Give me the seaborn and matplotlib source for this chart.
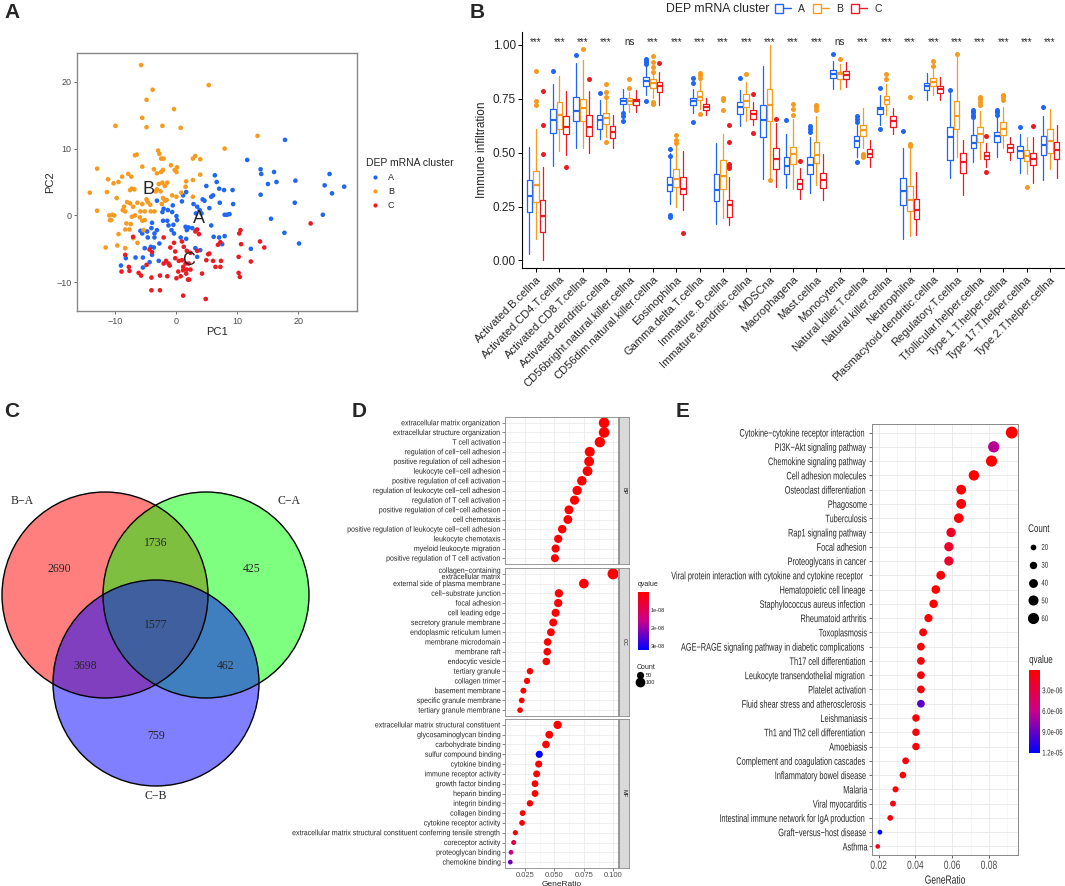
import numpy as np
import pandas as pd
import matplotlib
matplotlib.use('Agg')
import matplotlib.pyplot as plt
import seaborn as sns
from matplotlib.colors import LinearSegmentedColormap, Normalize
from matplotlib.cm import ScalarMappable
from matplotlib.patches import Circle, Patch
from matplotlib.lines import Line2D
from matplotlib.legend_handler import HandlerTuple
from matplotlib.patheffects import AbstractPathEffect
from matplotlib.transforms import Affine2D

# ---------------- data ----------------
# A: PCA points per DEP mRNA cluster
pc_A = [(17.8, 11.3), (11.6, 8.3), (13.8, 6.9), (13.9, 6.2), (16.0, 6.5), (16.4, 5.0), (15.0, 4.7), (25.1, 6.2),
        (24.3, 4.5), (25.5, 3.3), (27.5, 4.3), (19.5, 5.2), (19.4, 1.9), (13.8, 3.1), (24.0, 0.1), (15.5, -0.5),
        (17.7, -2.6), (20.1, -4.2), (12.2, -5.0), (6.3, 6.0), (6.6, 5.0), (7.0, 4.0), (7.8, 3.8), (9.2, 3.8),
        (4.9, 4.4), (6.0, 3.0), (5.7, 2.8), (4.3, 2.4), (4.6, 2.2), (7.1, 1.9), (9.3, 1.7), (5.4, 1.1), (7.9, 0.1),
        (8.3, 0.1), (8.7, 0.2), (5.7, -1.5), (6.1, -3.2), (7.0, -3.3), (7.9, -3.1), (7.5, -4.3), (1.6, 3.5),
        (1.1, 3.0), (0.9, 2.1), (2.8, 1.7), (3.4, 1.3), (3.8, 0.8), (4.1, 0.3), (3.2, 0.3), (-3.2, 2.2),
        (-2.3, 0.5), (-2.1, 1.0), (-1.4, 0.8), (-0.7, 0.5), (-0.6, 1.5), (0.0, -0.1), (0.1, -0.7), (-0.5, -1.4),
        (-1.5, -0.8), (-2.2, -0.8), (-4.0, -1.1), (-4.1, -1.9), (-3.2, -2.2), (-3.6, -2.7), (-4.8, -2.4),
        (-5.9, -2.3), (-5.6, -2.7), (-4.7, -3.3), (-3.6, -3.3), (-1.3, -1.5), (-0.8, -2.2), (-0.4, -2.7),
        (0.7, -3.3), (1.6, -3.5), (1.5, -1.7), (2.0, -1.8), (2.6, -1.9), (3.3, -2.2), (1.7, -2.2), (-4.2, -4.7),
        (-3.7, -4.8), (-2.8, -4.2), (-4.0, -5.9), (-5.2, -4.9), (-6.7, -6.3), (-5.5, -6.3), (-5.5, -7.8),
        (-8.3, -6.4), (-9.1, -7.5), (3.4, -6.2), (3.9, -5.2), (3.1, -4.9), (-4.4, -7.0), (-2.9, -6.8)]
pc_B = [(-5.8, 22.5), (5.3, 19.5), (-3.9, 18.8), (-4.9, 17.3), (-0.4, 15.9), (-5.6, 14.6), (-4.9, 13.2),
        (-10.0, 13.4), (-2.3, 13.4), (0.7, 13.1), (13.3, 11.9), (7.9, 10.0), (-3.0, 9.7), (-2.8, 9.2), (-6.8, 9.0),
        (-6.5, 9.1), (3.1, 8.9), (2.7, 8.5), (3.9, 8.4), (-2.5, 8.5), (-2.1, 8.5), (-13.0, 7.0), (-5.6, 7.3),
        (-0.9, 7.5), (0.1, 7.2), (-3.7, 6.9), (-2.2, 6.8), (-3.2, 6.3), (-2.5, 6.5), (-7.9, 6.2), (-7.4, 5.8),
        (-8.9, 5.8), (0.0, 6.5), (-0.3, 6.8), (3.9, 6.1), (-11.2, 5.4), (-10.3, 4.8), (-9.5, 5.0), (-2.9, 4.7),
        (-2.3, 4.9), (-1.5, 4.9), (-1.9, 4.4), (2.7, 5.3), (1.6, 5.1), (-7.3, 4.0), (-7.6, 3.8), (-6.9, 3.9),
        (-3.2, 3.9), (-3.4, 3.6), (-2.6, 3.6), (-14.2, 3.4), (-11.4, 3.5), (-9.8, 2.6), (1.5, 4.3), (-0.7, 3.0),
        (0.0, 2.8), (0.8, 3.4), (2.7, 2.8), (-8.1, 2.0), (-7.6, 1.8), (-6.4, 1.9), (-7.1, 1.3), (-4.9, 2.4),
        (-4.7, 2.0), (-4.3, 1.6), (-5.6, 1.7), (-2.2, 2.6), (-1.9, 2.2), (-2.4, 1.7), (-1.6, 2.3), (-8.6, 1.3),
        (-8.8, 0.8), (-8.4, 0.6), (-13.0, 0.7), (-10.5, 0.1), (-11.0, 0.0), (-10.2, 0.0), (-10.7, -0.7),
        (-10.9, -0.7), (-5.9, 0.6), (-5.2, 0.6), (-4.2, 0.6), (-3.6, 0.6), (-7.3, -0.2), (-6.8, 0.0), (-6.0, -0.3),
        (-5.2, -0.7), (-8.2, -1.2), (-7.5, -1.3), (-7.7, -2.1), (-8.4, -2.1), (-5.6, -0.8), (-5.4, -2.2),
        (-9.5, -2.8), (-11.6, -4.8), (-9.7, -4.5), (-8.4, -4.9), (-7.1, -3.4), (-6.4, -4.1)]
pc_C = [(22.0, -1.2), (10.5, -2.2), (10.3, -2.7), (10.6, -4.3), (13.7, -3.9), (14.4, -4.8), (12.2, -6.9),
        (10.2, -6.2), (10.2, -8.6), (10.4, -9.2), (7.2, -4.0), (6.8, -4.4), (7.3, -6.8), (7.2, -7.7), (6.4, -7.7),
        (6.0, -6.8), (5.2, -5.8), (4.9, -6.7), (4.2, -8.7), (4.8, -12.5), (1.1, -12.0), (3.4, -2.1), (3.7, -2.8),
        (3.1, -2.4), (-2.1, -3.3), (-1.0, -4.8), (-0.4, -4.1), (-0.2, -5.4), (0.9, -3.9), (1.2, -4.7), (1.7, -5.3),
        (2.3, -5.6), (3.4, -5.3), (-0.2, -6.4), (0.4, -6.8), (0.9, -6.7), (1.5, -7.2), (2.0, -7.2), (-1.7, -6.8),
        (-1.3, -7.2), (-1.1, -7.5), (-2.1, -7.2), (1.1, -7.7), (1.7, -8.1), (2.3, -8.1), (0.3, -8.4), (1.1, -8.2),
        (1.6, -8.7), (0.7, -9.1), (0.0, -9.4), (1.9, -9.6), (2.1, -9.6), (-2.7, -9.0), (-1.5, -9.1), (-4.1, -9.3),
        (-2.7, -11.2), (-4.1, -11.2), (-4.4, -5.1), (-4.0, -5.5), (-4.9, -7.4), (-7.1, -3.2), (-8.4, -5.9),
        (-7.8, -7.7), (-7.7, -8.3), (-9.0, -8.4), (-6.2, -8.6), (-5.8, -9.0), (5.4, -5.7)]
cluster_centers = {'A': (3.7, -0.4), 'B': (-4.6, 3.9), 'C': (2.0, -6.7)}

# B: immune infiltration box statistics (whislo, q1, median, q3, whishi)
cell_types = ['Activated.B.cellna', 'Activated.CD4.T.cellna', 'Activated.CD8.T.cellna',
              'Activated.dendritic.cellna', 'CD56bright.natural.killer.cellna', 'CD56dim.natural.killer.cellna',
              'Eosinophilna', 'Gamma.delta.T.cellna', 'Immature..B.cellna', 'Immature.dendritic.cellna', 'MDSCna',
              'Macrophagena', 'Mast.cellna', 'Monocytena', 'Natural.killer.T.cellna', 'Natural.killer.cellna',
              'Neutrophilna', 'Plasmacytoid.dendritic.cellna', 'Regulatory.T.cellna', 'T.follicular.helper.cellna',
              'Type.1.T.helper.cellna', 'Type.17.T.helper.cellna', 'Type.2.T.helper.cellna']
signif = ['***', '***', '***', '***', 'ns', '***', '***', '***', '***', '***', '***', '***', '***', 'ns',
          '***', '***', '***', '***', '***', '***', '***', '***', '***']
stats_A = [(0.03, 0.225, 0.298, 0.374, 0.527), (0.44, 0.592, 0.653, 0.704, 0.817), (0.524, 0.646, 0.692, 0.760, 0.916),
           (0.562, 0.611, 0.653, 0.673, 0.745), (0.676, 0.727, 0.740, 0.753, 0.795), (0.768, 0.810, 0.832, 0.852, 0.902),
           (0.264, 0.320, 0.348, 0.386, 0.500), (0.684, 0.719, 0.740, 0.753, 0.795), (0.169, 0.276, 0.328, 0.402, 0.547),
           (0.623, 0.680, 0.710, 0.737, 0.790), (0.379, 0.574, 0.650, 0.719, 0.900), (0.336, 0.402, 0.440, 0.481, 0.585),
           (0.315, 0.402, 0.443, 0.478, 0.573), (0.795, 0.847, 0.867, 0.882, 0.924), (0.478, 0.528, 0.554, 0.577, 0.630),
           (0.627, 0.679, 0.702, 0.714, 0.768), (0.100, 0.256, 0.320, 0.382, 0.524), (0.745, 0.791, 0.809, 0.824, 0.870),
           (0.382, 0.466, 0.573, 0.618, 0.776), (0.455, 0.521, 0.547, 0.580, 0.661), (0.478, 0.551, 0.577, 0.595, 0.669),
           (0.405, 0.475, 0.508, 0.531, 0.585), (0.371, 0.490, 0.536, 0.577, 0.669)]
fliers_A = [[], [0.879], [0.954], [0.776], [0.684, 0.669, 0.646], [0.936, 0.928, 0.92, 0.913, 0.74],
            [0.519, 0.486, 0.211, 0.203], [0.847, 0.824, 0.643], [], [0.847], [], [0.65], [0.626, 0.612, 0.595],
            [0.956], [0.669, 0.658, 0.643, 0.456], [0.801, 0.611], [0.60], [], [0.791], [0.70, 0.689, 0.676, 0.664],
            [0.70, 0.689, 0.676], [0.618], [0.713]]
stats_B = [(0.10, 0.27, 0.348, 0.417, 0.608), (0.51, 0.612, 0.673, 0.734, 0.857), (0.524, 0.646, 0.707, 0.748, 0.928),
           (0.573, 0.634, 0.661, 0.684, 0.753), (0.69, 0.728, 0.742, 0.753, 0.783), (0.753, 0.80, 0.824, 0.84, 0.913),
           (0.249, 0.34, 0.379, 0.424, 0.542), (0.704, 0.745, 0.76, 0.786, 0.837), (0.195, 0.333, 0.394, 0.467, 0.588),
           (0.646, 0.711, 0.74, 0.772, 0.829), (0.386, 0.646, 0.722, 0.795, 1.00), (0.333, 0.447, 0.493, 0.528, 0.656),
           (0.348, 0.45, 0.49, 0.551, 0.669), (0.795, 0.841, 0.863, 0.875, 0.913), (0.524, 0.577, 0.603, 0.627, 0.707),
           (0.676, 0.725, 0.745, 0.765, 0.821), (0.115, 0.231, 0.282, 0.345, 0.516), (0.768, 0.809, 0.829, 0.847, 0.89),
           (0.478, 0.611, 0.669, 0.74, 0.944), (0.47, 0.55, 0.585, 0.618, 0.692), (0.524, 0.58, 0.608, 0.643, 0.714),
           (0.402, 0.46, 0.486, 0.511, 0.573), (0.424, 0.50, 0.554, 0.608, 0.704)]
fliers_B = [[0.881, 0.74, 0.719], [], [0.98], [0.821, 0.78, 0.76, 0.551], [0.841, 0.80],
            [0.948, 0.92, 0.896, 0.875, 0.737, 0.725], [0.582, 0.557, 0.547], [0.87, 0.86, 0.847, 0.68],
            [0.753, 0.745, 0.70], [0.867], [0.371], [0.727, 0.702, 0.676], [0.719, 0.71, 0.70], [0.933],
            [0.496, 0.486, 0.478], [0.863, 0.841], [0.757, 0.542, 0.531], [0.925, 0.902], [0.956],
            [0.76, 0.75, 0.737, 0.722], [0.768, 0.757, 0.745], [0.34], []]
stats_C = [(0.0, 0.134, 0.206, 0.279, 0.432), (0.49, 0.585, 0.621, 0.672, 0.786), (0.50, 0.577, 0.621, 0.673, 0.786),
           (0.524, 0.569, 0.595, 0.626, 0.676), (0.69, 0.722, 0.74, 0.748, 0.79), (0.722, 0.78, 0.81, 0.827, 0.875),
           (0.234, 0.31, 0.333, 0.386, 0.508), (0.676, 0.70, 0.714, 0.727, 0.753), (0.165, 0.203, 0.256, 0.282, 0.389),
           (0.627, 0.658, 0.679, 0.698, 0.734), (0.343, 0.424, 0.473, 0.52, 0.638), (0.287, 0.331, 0.353, 0.376, 0.429),
           (0.282, 0.337, 0.371, 0.406, 0.493), (0.806, 0.84, 0.86, 0.878, 0.921), (0.432, 0.478, 0.496, 0.519, 0.557),
           (0.585, 0.62, 0.646, 0.669, 0.707), (0.119, 0.192, 0.234, 0.287, 0.412), (0.745, 0.776, 0.794, 0.81, 0.852),
           (0.302, 0.405, 0.455, 0.50, 0.557), (0.435, 0.47, 0.486, 0.505, 0.547), (0.467, 0.505, 0.524, 0.542, 0.573),
           (0.359, 0.443, 0.473, 0.50, 0.573), (0.383, 0.47, 0.513, 0.551, 0.63)]
fliers_C = [[0.786, 0.63, 0.493], [0.432], [0.84], [], [], [0.916], [0.127], [], [0.63, 0.55, 0.447, 0.437, 0.429],
            [0.771, 0.592], [0.658], [0.46], [], [], [], [], [], [], [], [0.577, 0.409], [], [0.623], []]

# C: Venn counts
venn_sets = ['B\u2212A', 'C\u2212A', 'C\u2212B']
venn_counts = {'BA': 2690, 'CA': 425, 'CB': 759, 'BA&CA': 1736, 'BA&CB': 3698, 'CA&CB': 462, 'all': 1577}

# D: GO enrichment
bp_terms = ['extracellular matrix organization', 'extracellular structure organization', 'T cell activation',
            'regulation of cell\u2212cell adhesion', 'positive regulation of cell adhesion',
            'leukocyte cell\u2212cell adhesion', 'positive regulation of cell activation',
            'regulation of leukocyte cell\u2212cell adhesion', 'regulation of T cell activation',
            'positive regulation of cell\u2212cell adhesion', 'cell chemotaxis',
            'positive regulation of leukocyte cell\u2212cell adhesion', 'leukocyte chemotaxis',
            'myeloid leukocyte migration', 'positive regulation of T cell activation']
bp_ratio = [0.0922, 0.0922, 0.0886, 0.080, 0.0795, 0.0781, 0.0733, 0.0693, 0.0671, 0.0623, 0.0614, 0.0566,
            0.0532, 0.051, 0.0504]
bp_count = [120, 120, 116, 104, 103, 101, 95, 90, 87, 81, 80, 74, 69, 66, 65]
bp_q = [1e-15] * 15
cc_terms = ['collagen\u2212containing\nextracellular matrix', 'external side of plasma membrane',
            'cell\u2212substrate junction', 'focal adhesion', 'cell leading edge', 'secretory granule membrane',
            'endoplasmic reticulum lumen', 'membrane microdomain', 'membrane raft', 'endocytic vesicle',
            'tertiary granule', 'collagen trimer', 'basement membrane', 'specific granule membrane',
            'tertiary granule membrane']
cc_ratio = [0.0998, 0.075, 0.0538, 0.0532, 0.051, 0.049, 0.047, 0.0442, 0.0439, 0.0431, 0.0292, 0.0267,
            0.0236, 0.0222, 0.0208]
cc_count = [130, 98, 70, 69, 66, 64, 61, 57, 57, 56, 38, 35, 31, 29, 27]
cc_q = [1e-15] * 15
mf_terms = ['extracellular matrix structural constituent', 'glycosaminoglycan binding', 'carbohydrate binding',
            'sulfur compound binding', 'cytokine binding', 'immune receptor activity', 'growth factor binding',
            'heparin binding', 'integrin binding', 'collagen binding', 'cytokine receptor activity',
            'extracellular matrix structural constituent conferring tensile strength', 'coreceptor activity',
            'proteoglycan binding', 'chemokine binding']
mf_ratio = [0.0527, 0.0456, 0.0428, 0.0371, 0.0366, 0.0349, 0.0335, 0.0335, 0.0292, 0.023, 0.0225, 0.0168,
            0.0154, 0.0131, 0.0125]
mf_count = [70, 61, 57, 49, 48, 46, 44, 44, 38, 30, 29, 22, 20, 17, 16]
mf_q = [1e-15, 1e-12, 1e-11, 3.2e-08, 1e-11, 1e-10, 1e-10, 1e-10, 1e-10, 1e-10, 3e-10, 5e-10, 0.8e-08,
        1.5e-08, 2.3e-08]

# E: KEGG enrichment
kegg_terms = ['Cytokine\u2212cytokine receptor interaction', 'PI3K\u2212Akt signaling pathway',
              'Chemokine signaling pathway', 'Cell adhesion molecules', 'Osteoclast differentiation', 'Phagosome',
              'Tuberculosis', 'Rap1 signaling pathway', 'Focal adhesion', 'Proteoglycans in cancer',
              'Viral protein interaction with cytokine and cytokine receptor', 'Hematopoietic cell lineage',
              'Staphylococcus aureus infection', 'Rheumatoid arthritis', 'Toxoplasmosis',
              'AGE\u2212RAGE signaling pathway in diabetic complications', 'Th17 cell differentiation',
              'Leukocyte transendothelial migration', 'Platelet activation', 'Fluid shear stress and atherosclerosis',
              'Leishmaniasis', 'Th1 and Th2 cell differentiation', 'Amoebiasis', 'Complement and coagulation cascades',
              'Inflammatory bowel disease', 'Malaria', 'Viral myocarditis',
              'Intestinal immune network for IgA production', 'Graft\u2212versus\u2212host disease', 'Asthma']
kegg_ratio = [0.0924, 0.0826, 0.0814, 0.0718, 0.0649, 0.0649, 0.0636, 0.0594, 0.0582, 0.0582, 0.0538, 0.0511,
              0.0499, 0.0471, 0.0442, 0.043, 0.043, 0.043, 0.043, 0.043, 0.0403, 0.0403, 0.0403, 0.0347, 0.0332,
              0.0292, 0.0278, 0.0263, 0.0207, 0.0195]
kegg_count = [68, 61, 60, 53, 48, 48, 47, 44, 43, 43, 40, 38, 37, 35, 33, 32, 32, 32, 32, 32, 30, 30, 30, 26,
              25, 22, 21, 20, 16, 15]
kegg_q = [1e-12, 6.5e-06, 5e-09, 1e-08, 2e-07, 3e-07, 5e-07, 1.6e-06, 1.8e-06, 2.0e-06, 4e-07, 3e-08, 2e-08,
          2e-08, 4e-07, 1e-07, 3e-07, 4e-07, 6e-07, 9.3e-06, 1e-07, 3e-07, 3e-07, 5e-07, 1e-07, 2e-07, 6e-07,
          5e-07, 1.2e-05, 1e-06]

# ---------------- style ----------------
W, H = 1065, 886
sns.set_theme(style='white')
plt.rcParams['font.family'] = ['Liberation Sans', 'DejaVu Sans']
SERIF = ['Liberation Serif', 'DejaVu Serif']
pal = {'A': '#1F66F2', 'B': '#F79A1E', 'C': '#EA1B22'}
qcmap = LinearSegmentedColormap.from_list('q', ['#FF0000', '#C8008C', '#0000FF'])


class Squeeze(AbstractPathEffect):
    """Draw text horizontally condensed (the reference panel E uses a narrow face)."""

    def __init__(self, sx, anchor='right'):
        super().__init__()
        self.sx = sx
        self.anchor = anchor

    def draw_path(self, renderer, gc, tpath, affine, rgbFace=None):
        ext = tpath.get_extents(affine)
        x0 = {'right': ext.x1, 'left': ext.x0}.get(self.anchor, (ext.x0 + ext.x1) / 2)
        aff = affine + Affine2D().translate(-x0, 0).scale(self.sx, 1).translate(x0, 0)
        renderer.draw_path(gc, tpath, aff, rgbFace)


def squeeze(texts, sx, anchor):
    for t in texts:
        t.set_path_effects([Squeeze(sx, anchor)])


def box(l, t, r, b):
    return [l / W, 1 - b / H, (r - l) / W, (b - t) / H]


fig = plt.figure(figsize=(W / 100, H / 100), dpi=100)

# ---------------- A: PCA ----------------
pca = pd.concat([pd.DataFrame(pts, columns=['PC1', 'PC2']).assign(cluster=k)
                 for k, pts in [('A', pc_A), ('B', pc_B), ('C', pc_C)]])
axA = fig.add_axes(box(77, 53, 357, 311))
sns.scatterplot(data=pca, x='PC1', y='PC2', hue='cluster', palette=pal, s=11, linewidth=0, ax=axA)
for k, (cx, cy) in cluster_centers.items():
    axA.text(cx, cy, k, fontsize=13, ha='center', va='center')
axA.set_xlim(-16.3, 29.6)
axA.set_ylim(-14.3, 24.3)
axA.set_xticks([-10, 0, 10, 20])
axA.set_yticks([-10, 0, 10, 20])
axA.tick_params(labelsize=6.5, labelcolor='#4D4D4D', length=2.5, width=0.6, color='#555555', pad=1.5,
                left=True, bottom=True)
for s in axA.spines.values():
    s.set_color('#888888')
    s.set_linewidth(1.0)
axA.set_xlabel('PC1', fontsize=8, labelpad=1)
axA.set_ylabel('PC2', fontsize=8, labelpad=1)
axA.legend(title='DEP mRNA cluster', loc='upper left', bbox_to_anchor=(358 / W, 1 - 150 / H),
           bbox_transform=fig.transFigure, frameon=False, fontsize=6.5, title_fontsize=7.5,
           markerscale=0.9, handletextpad=0.4, labelspacing=0.55, alignment='left')

# ---------------- B: immune infiltration boxplots ----------------
axB = fig.add_axes(box(522, 32, 1064, 268))
n = len(cell_types)
for k, (cl, st, fl) in enumerate([('A', stats_A, fliers_A), ('B', stats_B, fliers_B), ('C', stats_C, fliers_C)]):
    c = pal[cl]
    bstats = [dict(whislo=lo, q1=q1, med=md, q3=q3, whishi=hi, fliers=f)
              for (lo, q1, md, q3, hi), f in zip(st, fl)]
    axB.bxp(bstats, positions=np.arange(n) + (k - 1) * 0.28, widths=0.24, showcaps=False, manage_ticks=False,
            boxprops=dict(color=c, lw=0.9), whiskerprops=dict(color=c, lw=0.9),
            medianprops=dict(color=c, lw=1.6),
            flierprops=dict(marker='o', markerfacecolor=c, markeredgecolor='none', markersize=3.6))
for i, lab in enumerate(signif):
    axB.text(i, 1.0, lab, ha='center', va='baseline', fontsize=7)
axB.set_xlim(-0.6, n - 0.4)
axB.set_ylim(-0.035, 1.06)
axB.set_yticks([0, 0.25, 0.5, 0.75, 1.0])
axB.set_yticklabels(['0.00', '0.25', '0.50', '0.75', '1.00'])
axB.set_xticks(np.arange(n))
axB.set_xticklabels(cell_types, rotation=45, ha='right', rotation_mode='anchor')
axB.tick_params(axis='y', labelsize=8.5, length=3, width=0.7, color='black', pad=1.5, left=True)
axB.tick_params(axis='x', labelsize=8, length=3, width=0.7, color='black', pad=1.5, bottom=True)
axB.set_ylabel('Immune infiltration', fontsize=8.5, labelpad=3)
for s in ['top', 'right']:
    axB.spines[s].set_visible(False)
for s in ['left', 'bottom']:
    axB.spines[s].set_color('black')
    axB.spines[s].set_linewidth(0.8)
fig.text(666 / W, 1 - 9 / H, 'DEP mRNA cluster', fontsize=8.8, va='center', ha='left')
hB = [(Patch(facecolor='white', edgecolor=pal[k], lw=1.0), Line2D([0], [0], color=pal[k], lw=1.0))
      for k in ['A', 'B', 'C']]
fig.legend(hB, ['A', 'B', 'C'], loc='center left', bbox_to_anchor=(775 / W, 1 - 9 / H), ncol=3, frameon=False,
           fontsize=7.5, handler_map={tuple: HandlerTuple(ndivide=None)}, handlelength=1.5, handleheight=1.0,
           handletextpad=0.7, columnspacing=0.8, borderpad=0, borderaxespad=0)

# ---------------- C: Venn ----------------
axC = fig.add_axes(box(0, 470, 330, 810))
axC.set_xlim(0, 330)
axC.set_ylim(810, 470)
axC.axis('off')
circ = [((105, 595), 'red'), ((206, 595), 'lime'), ((156, 683), 'blue')]
for (cx, cy), col in circ:
    axC.add_patch(Circle((cx, cy), 103, facecolor=col, alpha=0.5, edgecolor='none'))
for (cx, cy), col in circ:
    axC.add_patch(Circle((cx, cy), 103, fill=False, edgecolor='black', lw=1.0))
venn_pos = {'BA': (59, 569), 'CA': (252, 569), 'CB': (156, 736), 'BA&CA': (156, 543), 'BA&CB': (85, 666),
            'CA&CB': (226, 666), 'all': (156, 625)}
for key, (px, py) in venn_pos.items():
    axC.text(px, py, str(venn_counts[key]), ha='center', va='center', fontsize=8.5, family=SERIF)
for lab, (px, py) in zip(venn_sets, [(22, 501), (289, 501), (156, 796)]):
    axC.text(px, py, lab, ha='center', va='center', fontsize=8.5, family=SERIF)

# ---------------- D: GO dotplot ----------------
d_norm = (0, 3.2e-08)
d_sizes, d_size_norm = (11, 63), (15, 130)
facets = [('BP', bp_terms, bp_ratio, bp_count, bp_q, 417, 564),
          ('CC', cc_terms, cc_ratio, cc_count, cc_q, 568, 716),
          ('MF', mf_terms, mf_ratio, mf_count, mf_q, 719, 868)]
for j, (name, terms, ratio, cnt, q, t, b) in enumerate(facets):
    df = pd.DataFrame({'term': terms, 'GeneRatio': ratio, 'Count': cnt, 'qvalue': q})
    ax = fig.add_axes(box(505, t, 618, b))
    ax.set_axisbelow(True)
    ax.set_xticks([0.025, 0.05, 0.075, 0.1])
    ax.set_xticks([0.0125, 0.0375, 0.0625, 0.0875], minor=True)
    ax.grid(which='major', color='#EBEBEB', lw=0.6)
    ax.grid(which='minor', axis='x', color='#F4F4F4', lw=0.4)
    sns.scatterplot(data=df, x='GeneRatio', y='term', hue='qvalue', size='Count', palette=qcmap, hue_norm=d_norm,
                    sizes=d_sizes, size_norm=d_size_norm, linewidth=0, legend=False, ax=ax)
    ax.set_xlim(0.008, 0.104)
    ax.set_ylim(len(terms) - 0.4, -0.6)
    ax.set_yticks(range(len(terms)))
    ax.set_yticklabels(terms, fontsize=5.6, linespacing=0.85)
    squeeze(ax.get_yticklabels(), 0.9, 'right')
    ax.tick_params(axis='y', length=2, width=0.4, color='#333333', pad=1, left=True)
    ax.set_ylabel('')
    if j < 2:
        ax.set_xlabel('')
        ax.tick_params(axis='x', labelbottom=False, bottom=False)
    else:
        ax.set_xticklabels(['0.025', '0.050', '0.075', '0.100'])
        ax.tick_params(axis='x', labelsize=5.5, labelcolor='#4D4D4D', length=2, width=0.4, pad=1, bottom=True)
        ax.set_xlabel('GeneRatio', fontsize=6, labelpad=1)
    for s in ax.spines.values():
        s.set_color('#888888')
        s.set_linewidth(0.6)
    st = fig.add_axes(box(619, t, 629, b))
    st.set_facecolor('#D9D9D9')
    st.set_xticks([])
    st.set_yticks([])
    for s in st.spines.values():
        s.set_color('#888888')
        s.set_linewidth(0.6)
    st.text(0.5, 0.5, name, rotation=-90, ha='center', va='center', fontsize=4, color='#1A1A1A',
            transform=st.transAxes)

caxD = fig.add_axes(box(638, 592, 649, 650))
cbD = fig.colorbar(ScalarMappable(norm=Normalize(*d_norm), cmap=qcmap), cax=caxD)
caxD.invert_yaxis()
cbD.set_ticks([1e-08, 2e-08, 3e-08])
cbD.set_ticklabels(['1e-08', '2e-08', '3e-08'])
cbD.outline.set_visible(False)
caxD.tick_params(labelsize=4, length=2, width=0.5, color='white', direction='in', pad=1.5)
fig.text(638 / W, 1 - 585 / H, 'qvalue', fontsize=5, va='center', ha='left')


def size_handles(vals, sizes, norm):
    return [Line2D([0], [0], marker='o', ls='', color='black', markeredgewidth=0,
                   markersize=np.sqrt(sizes[0] + (v - norm[0]) / (norm[1] - norm[0]) * (sizes[1] - sizes[0])))
            for v in vals]


fig.legend(size_handles([50, 100], d_sizes, d_size_norm), ['50', '100'], title='Count', loc='upper left',
           bbox_to_anchor=(637 / W, 1 - 664 / H), frameon=False, fontsize=4, title_fontsize=5,
           handletextpad=0.3, labelspacing=0.4, borderpad=0, borderaxespad=0, alignment='left', handlelength=1.2)

# ---------------- E: KEGG dotplot ----------------
e_norm = (0, 1.2e-05)
e_sizes, e_size_norm = (11, 74), (15, 68)
dfE = pd.DataFrame({'term': kegg_terms, 'GeneRatio': kegg_ratio, 'Count': kegg_count, 'qvalue': kegg_q})
axE = fig.add_axes(box(872, 424, 1018, 855))
axE.set_axisbelow(True)
axE.set_xticks([0.02, 0.04, 0.06, 0.08])
axE.set_xticks([0.03, 0.05, 0.07, 0.09], minor=True)
axE.grid(which='major', color='#EBEBEB', lw=0.7)
axE.grid(which='minor', axis='x', color='#F4F4F4', lw=0.5)
sns.scatterplot(data=dfE, x='GeneRatio', y='term', hue='qvalue', size='Count', palette=qcmap, hue_norm=e_norm,
                sizes=e_sizes, size_norm=e_size_norm, linewidth=0, legend=False, ax=axE)
axE.set_xlim(0.0164, 0.0958)
axE.set_ylim(len(kegg_terms) - 0.4, -0.6)
axE.set_yticks(range(len(kegg_terms)))
axE.set_yticklabels(kegg_terms, fontsize=7.8)
axE.set_xticklabels(['0.02', '0.04', '0.06', '0.08'])
axE.tick_params(axis='y', length=2, width=0.5, color='#333333', pad=1, left=True)
axE.tick_params(axis='x', labelsize=8.5, labelcolor='#4D4D4D', length=2, width=0.5, pad=1.5, bottom=True)
axE.set_ylabel('')
axE.set_xlabel('GeneRatio', fontsize=8.5, labelpad=2)
squeeze(axE.get_yticklabels(), 0.68, 'right')
squeeze(axE.get_xticklabels(), 0.72, 'center')
squeeze([axE.xaxis.label], 0.72, 'center')
for s in axE.spines.values():
    s.set_color('#888888')
    s.set_linewidth(0.7)

caxE = fig.add_axes(box(1029, 670, 1040, 753))
cbE = fig.colorbar(ScalarMappable(norm=Normalize(*e_norm), cmap=qcmap), cax=caxE)
caxE.invert_yaxis()
cbE.set_ticks([3e-06, 6e-06, 9e-06, 1.2e-05])
cbE.set_ticklabels(['3.0e-06', '6.0e-06', '9.0e-06', '1.2e-05'])
cbE.outline.set_visible(False)
caxE.tick_params(labelsize=6, length=2, width=0.5, color='white', direction='in', pad=1.5)
squeeze(caxE.get_yticklabels(), 0.72, 'left')
tq = fig.text(1029 / W, 1 - 660 / H, 'qvalue', fontsize=8, va='center', ha='left')
squeeze([tq], 0.72, 'left')
legE = fig.legend(size_handles([20, 30, 40, 50, 60], e_sizes, e_size_norm), ['20', '30', '40', '50', '60'],
                  title='Count', loc='upper left', bbox_to_anchor=(1028 / W, 1 - 524 / H), frameon=False,
                  fontsize=6, title_fontsize=8, handletextpad=0.4, labelspacing=1.2, borderpad=0,
                  borderaxespad=0, alignment='left', handlelength=1.2)
squeeze(legE.get_texts(), 0.72, 'left')
squeeze([legE.get_title()], 0.72, 'left')

# ---------------- panel letters ----------------
for lab, (px, py) in {'A': (4, 12), 'B': (470, 12), 'C': (4, 412), 'D': (352, 412), 'E': (676, 412)}.items():
    fig.text(px / W, 1 - py / H, lab, fontsize=15, fontweight='bold', va='center', ha='left')

fig.savefig('out.png', dpi=100)
